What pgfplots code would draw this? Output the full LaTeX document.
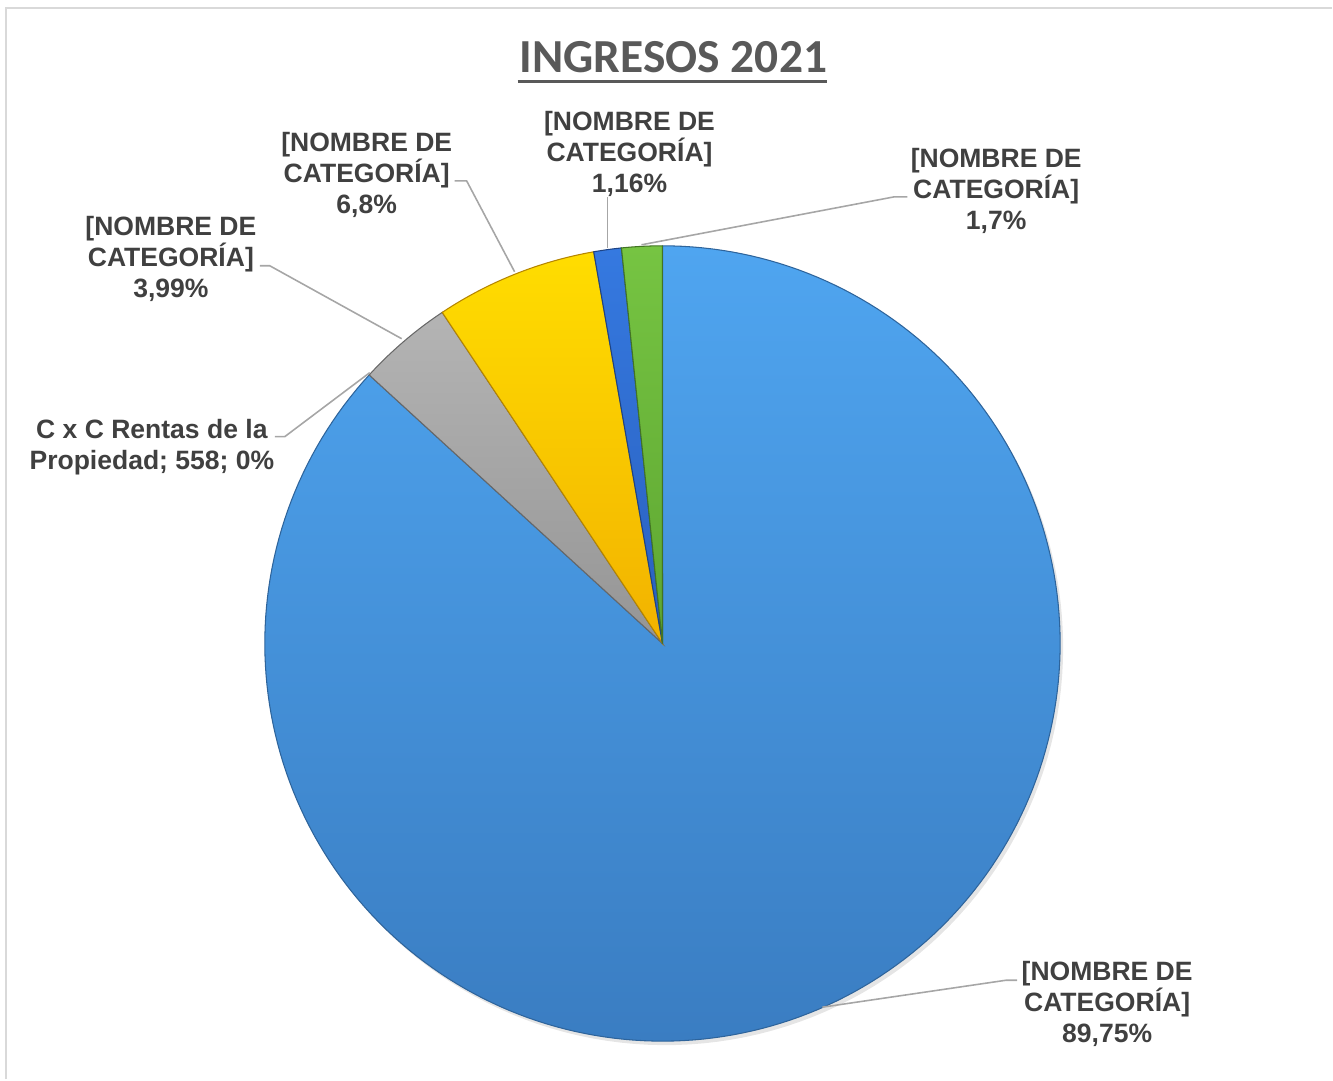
\documentclass[border=0pt]{standalone}
\usepackage{pgfplots}
\pgfplotsset{compat=1.18}
\usepackage{pgfplotstable}
\usepackage{fontspec}
\setmainfont{Liberation Sans}
\newfontfamily\titlefont{Carlito}
\definecolor{txt}{HTML}{404040}
\definecolor{titlec}{HTML}{595959}
\definecolor{leader}{HTML}{A6A6A6}
\definecolor{frame}{HTML}{D9D9D9}
\definecolor{blueT}{HTML}{4FA5F0}
\definecolor{blueB}{HTML}{3A7DC2}
\definecolor{grayT}{HTML}{B4B4B4}
\definecolor{grayB}{HTML}{959595}
\definecolor{yelT}{HTML}{FFDD00}
\definecolor{yelB}{HTML}{F2B200}
\definecolor{dbT}{HTML}{3579E0}
\definecolor{dbB}{HTML}{2A60BE}
\definecolor{grT}{HTML}{76C442}
\definecolor{grB}{HTML}{5EA632}
\tikzset{
  lab/.style={font=\fontsize{7.55}{8.82}\selectfont\bfseries, text=txt, align=center, inner sep=0pt},
  slice/.style={line width=0.3pt},
  ld/.style={leader, line width=0.45pt, mark=none}}
\begin{document}
\begin{tikzpicture}
\pgfplotstableread{
label value
Principal 89.75
CxC 0
Gris 3.99
Amarillo 6.8
AzulOscuro 1.16
Verde 1.7
}\piedata
\pgfplotstablegetelem{0}{value}\of\piedata \let\vA\pgfplotsretval
\pgfplotstablegetelem{1}{value}\of\piedata \let\vB\pgfplotsretval
\pgfplotstablegetelem{2}{value}\of\piedata \let\vC\pgfplotsretval
\pgfplotstablegetelem{3}{value}\of\piedata \let\vD\pgfplotsretval
\pgfplotstablegetelem{4}{value}\of\piedata \let\vE\pgfplotsretval
\pgfplotstablegetelem{5}{value}\of\piedata \let\vF\pgfplotsretval
\pgfmathsetmacro\S{\vA+\vB+\vC+\vD+\vE+\vF}
\pgfmathsetmacro\aA{90-360*(\vA/\S)}
\pgfmathsetmacro\aB{\aA-360*(\vB/\S)}
\pgfmathsetmacro\aC{\aB-360*(\vC/\S)}
\pgfmathsetmacro\aD{\aC-360*(\vD/\S)}
\pgfmathsetmacro\aE{\aD-360*(\vE/\S)}
\pgfmathsetmacro\aF{\aE-360*(\vF/\S)}
\def\cx{663}\def\cy{436}\def\r{398}
\begin{axis}[scale only axis, width=13.33cm, height=10.8cm,
  xmin=0, xmax=1333, ymin=0, ymax=1080, hide axis, clip=false]
\path (axis cs:0,0) rectangle (axis cs:1333,1080);
\addplot[frame, line width=0.6pt, mark=none] coordinates {(6,0) (6,1072) (1333,1072)};
% shadow
\addplot[draw=none, fill=black, opacity=0.10, domain=0:360, samples=180] ({\cx+3+\r*cos(x)},{\cy-4+\r*sin(x)}) -- cycle;
% slices
\addplot[slice, draw=blueB!80!black, top color=blueT, bottom color=blueB, domain=\aA:90, samples=220] ({\cx+\r*cos(x)},{\cy+\r*sin(x)}) -- (axis cs:\cx,\cy) -- cycle;
\addplot[slice, draw=grayB!70!black, top color=grayT, bottom color=grayB, domain=\aC:\aB, samples=15] ({\cx+\r*cos(x)},{\cy+\r*sin(x)}) -- (axis cs:\cx,\cy) -- cycle;
\addplot[slice, draw=yelB!75!black, top color=yelT, bottom color=yelB, domain=\aD:\aC, samples=25] ({\cx+\r*cos(x)},{\cy+\r*sin(x)}) -- (axis cs:\cx,\cy) -- cycle;
\addplot[slice, draw=dbB!70!black, top color=dbT, bottom color=dbB, domain=\aE:\aD, samples=8] ({\cx+\r*cos(x)},{\cy+\r*sin(x)}) -- (axis cs:\cx,\cy) -- cycle;
\addplot[slice, draw=grB!70!black, top color=grT, bottom color=grB, domain=\aF:\aE, samples=8] ({\cx+\r*cos(x)},{\cy+\r*sin(x)}) -- (axis cs:\cx,\cy) -- cycle;
% leader lines
\addplot[ld] coordinates {(260,814) (270,814) (402,741)};
\addplot[ld] coordinates {(275,643) (285,643) (370,707)};
\addplot[ld] coordinates {(455,899) (467,899) (515,808)};
\addplot[ld] coordinates {(608,883) (608,832)};
\addplot[ld] coordinates {(908,883) (895,883) (642,835)};
\addplot[ld] coordinates {(1018,99) (1007,99) (823,72)};
% title
\node[anchor=base, inner sep=0pt, text=titlec, font=\titlefont\bfseries\fontsize{13.5}{16}\selectfont] at (axis cs:674,1007) {INGRESOS 2021};
\addplot[titlec, line width=0.85pt, mark=none] coordinates {(518,998) (828,998)};
% labels
\node[lab] at (axis cs:367,905) {[NOMBRE DE\\CATEGORÍA]\\6,8\%};
\node[lab] at (axis cs:630,926) {[NOMBRE DE\\CATEGORÍA]\\1,16\%};
\node[lab] at (axis cs:997,889) {[NOMBRE DE\\CATEGORÍA]\\1,7\%};
\node[lab] at (axis cs:171,821) {[NOMBRE DE\\CATEGORÍA]\\3,99\%};
\node[lab] at (axis cs:152,632) {C x C Rentas de la\\Propiedad; 558; 0\%};
\node[lab] at (axis cs:1108,75) {[NOMBRE DE\\CATEGORÍA]\\89,75\%};
\end{axis}
\end{tikzpicture}
\end{document}
